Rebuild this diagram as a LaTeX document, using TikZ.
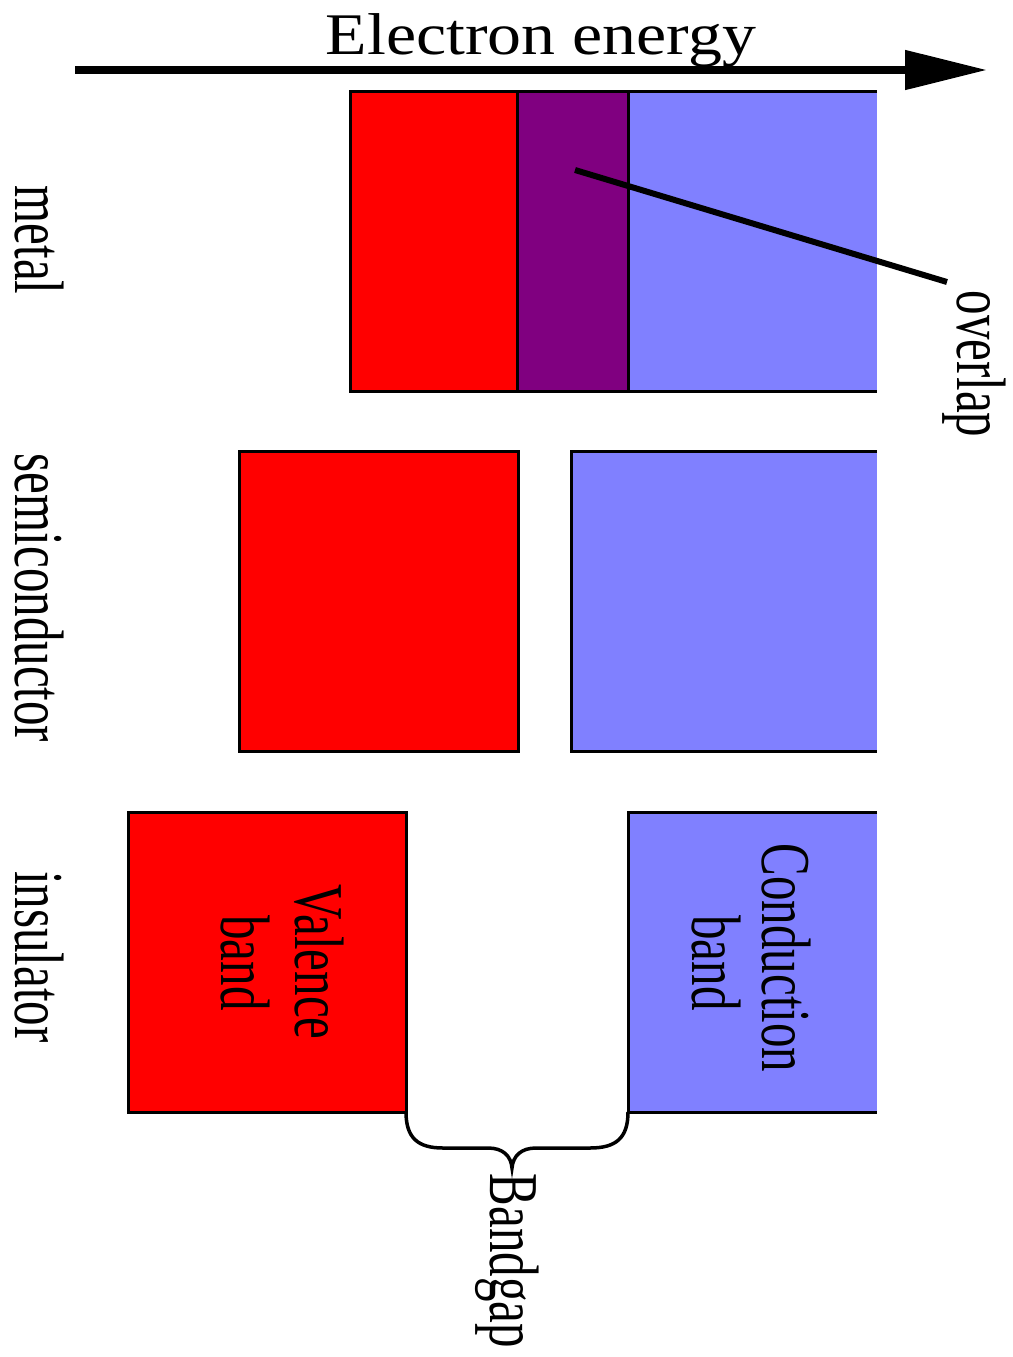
\documentclass[tikz,border=0pt]{standalone}
\usepackage{fontspec}
\setmainfont{Liberation Serif}
\usetikzlibrary{arrows.meta}
\definecolor{valred}{HTML}{FF0000}
\definecolor{conblue}{HTML}{8080FF}
\definecolor{ovpurple}{HTML}{800080}
\newcommand{\narrowtxt}[1]{\scalebox{0.7}[1]{#1}}
\begin{document}
\begin{tikzpicture}[x=1pt,y=-1pt,
  band/.style={rectangle, draw=none, inner sep=0pt, outer sep=0pt, anchor=north west, minimum height=300pt},
  boxline/.style={line width=3pt, line join=miter},
  lbl/.style={rotate=-90, anchor=base, inner sep=0pt, font=\fontsize{70}{70}\selectfont},
]
\useasboundingbox (0,0) rectangle (1012,1357);

% title and energy axis
\node[anchor=base, inner sep=0pt, font=\fontsize{59}{59}\selectfont] (title) at (541,54) {\scalebox{1.15}[1]{Electron energy}};
\coordinate (ax0) at (75,70);
\coordinate (ax1) at (987,70);
\draw[line width=8pt, -{Triangle[length=82pt,width=38pt]}] (ax0) -- (ax1);

% metal
\node[band, fill=valred, minimum width=167pt] (mv) at (350,91) {};
\node[band, fill=ovpurple, minimum width=111pt] (mo) at (517,91) {};
\node[band, fill=conblue, minimum width=249pt] (mc) at (628,91) {};
\draw[boxline] (mc.north east) -- (mv.north west) -- (mv.south west) -- (mc.south east);
\draw[boxline] (mo.north west) -- (mo.south west);
\draw[boxline] (mc.north west) -- (mc.south west);

% semiconductor
\node[band, fill=valred, minimum width=279pt] (sv) at (239,451) {};
\node[band, fill=conblue, minimum width=306pt] (sc) at (571,451) {};
\draw[boxline] (sv.north west) rectangle (sv.south east);
\draw[boxline] (sc.north east) -- (sc.north west) -- (sc.south west) -- (sc.south east);

% insulator
\node[band, fill=valred, minimum width=278pt] (iv) at (128,812) {};
\node[band, fill=conblue, minimum width=249pt] (ic) at (628,812) {};
\draw[boxline] (iv.north west) rectangle (iv.south east);
\draw[boxline] (ic.north east) -- (ic.north west) -- (ic.south west) -- (ic.south east);

% row labels
\node[lbl] (lmetal) at (16,240) {\narrowtxt{metal}};
\node[lbl] (lsemi) at (16,598) {\narrowtxt{semiconductor}};
\node[lbl] (lins) at (16,957) {\narrowtxt{insulator}};

% band labels
\node[lbl] (val1) at (295,962) {\narrowtxt{Valence}};
\node[lbl] (val2) at (221,963) {\narrowtxt{band}};
\node[lbl] (con1) at (762,958) {\narrowtxt{Conduction}};
\node[lbl] (con2) at (692,963) {\narrowtxt{band}};

% overlap pointer
\coordinate (ov0) at (575,170);
\coordinate (ov1) at (947,282);
\draw[line width=6pt] (ov0) -- (ov1);
\node[lbl] (lov) at (957,364) {\narrowtxt{overlap}};

% bandgap brace
\coordinate (bgtip) at (512,1168);
\draw[line width=3.5pt]
  (iv.south east) .. controls (406,1138) and (418,1148) .. (443,1148)
  -- (488,1148) .. controls (503,1148) and (511,1156) .. (bgtip)
  .. controls (513,1156) and (521,1148) .. (536,1148)
  -- (590,1148) .. controls (616,1148) and (628,1138) .. (ic.south west);
\node[lbl] (lgap) at (490,1261) {\narrowtxt{Bandgap}};
\end{tikzpicture}
\end{document}
